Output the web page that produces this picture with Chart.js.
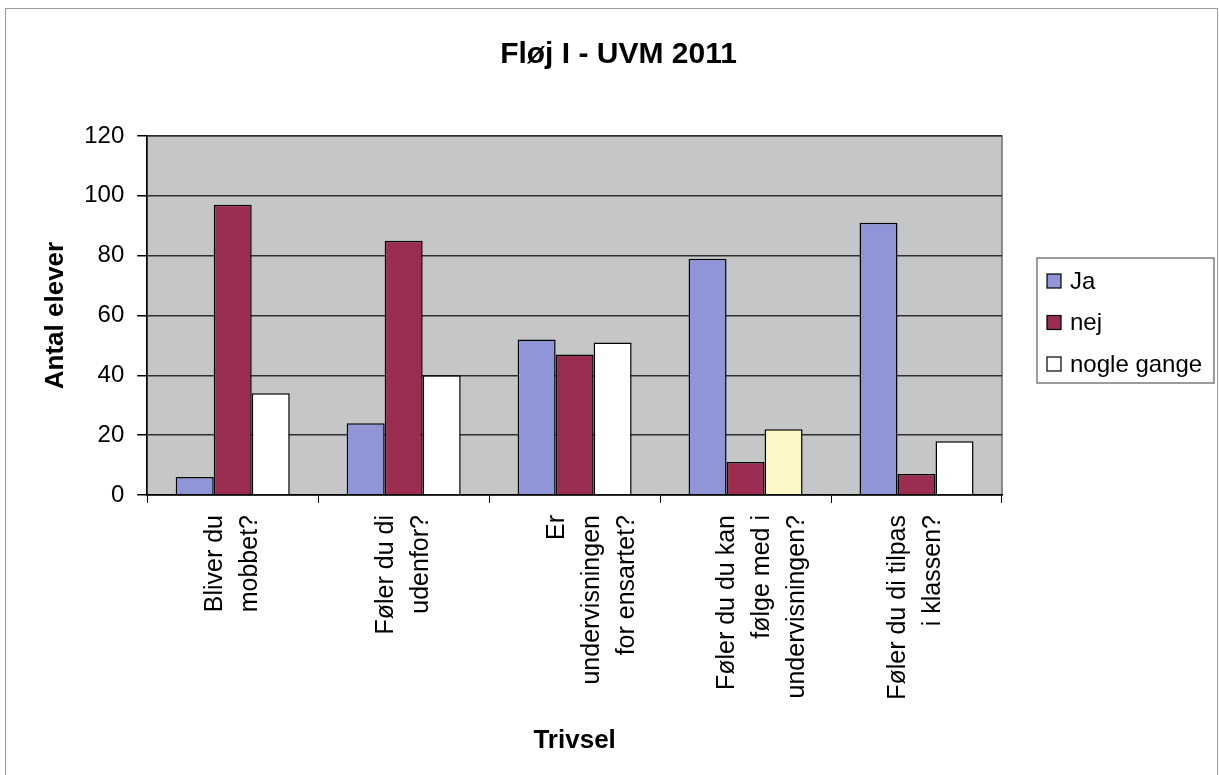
<!DOCTYPE html>
<html>
<head>
<meta charset="utf-8">
<script src="https://cdn.jsdelivr.net/npm/chart.js@4.4.0/dist/chart.umd.min.js"></script>
<style>
  html, body { margin: 0; padding: 0; background: #fff; overflow: hidden; }
  #frame { position: absolute; left: 5px; top: 8px; width: 1211px; height: 800px; border: 1px solid #9a9a9a; }
  #wrap { position: absolute; left: 0; top: 0; width: 1219px; height: 775px; }
</style>
</head>
<body>
<div id="frame"></div>
<div id="wrap"><canvas id="chart"></canvas></div>
<script>
// Data
const categories = [
  ['Bliver du', 'mobbet?'],
  ['Føler du di', 'udenfor?'],
  ['Er', 'undervisningen', 'for ensartet?'],
  ['Føler du du kan', 'følge med i', 'undervisningen?'],
  ['Føler du di tilpas', 'i klassen?']
];
const seriesNames = ['Ja', 'nej', 'nogle gange'];
const jaValues = [6, 24, 52, 79, 91];
const nejValues = [97, 85, 47, 11, 7];
const nogleValues = [34, 40, 51, 22, 18];
const yMin = 0;
const yMax = 120;
const yStep = 20;
const chartTitle = 'Fløj I - UVM 2011';

const FONT = "'Liberation Sans', Arial, sans-serif";

// Grey plot area and its frame
const plotBackground = {
  id: 'plotBackground',
  beforeDraw(chart) {
    const { ctx, chartArea: a } = chart;
    ctx.save();
    ctx.fillStyle = '#c4c6c8';
    ctx.fillRect(a.left, a.top, a.width, a.height);
    ctx.strokeStyle = '#6e6e6e';
    ctx.lineWidth = 1.5;
    ctx.strokeRect(a.left, a.top, a.width, a.height);
    ctx.restore();
  }
};

// Title centred over the whole picture (the built-in one would follow the padding)
const pageTitle = {
  id: 'pageTitle',
  afterDraw(chart) {
    const ctx = chart.ctx;
    ctx.save();
    ctx.fillStyle = '#000';
    ctx.font = "bold 30px " + FONT;
    ctx.textAlign = 'center';
    ctx.textBaseline = 'middle';
    ctx.fillText(chartTitle, chart.width / 2 + 9, 55);
    ctx.restore();
  }
};

// Legend in a framed box to the right of the plot, like Excel's
const sideLegend = {
  id: 'sideLegend',
  afterDraw(chart) {
    const { ctx, chartArea: a } = chart;
    const left = a.right + 35;
    const top = a.top + 122;
    const right = chart.width - 5;
    const rowH = 41.5;
    ctx.save();
    ctx.strokeStyle = '#7c7c7c';
    ctx.lineWidth = 1.5;
    ctx.strokeRect(left, top, right - left, 125);
    ctx.font = "24px " + FONT;
    ctx.textBaseline = 'middle';
    ctx.textAlign = 'left';
    chart.data.datasets.forEach((ds, i) => {
      const cy = top + 23 + i * rowH;
      const fill = Array.isArray(ds.backgroundColor) ? ds.backgroundColor[0] : ds.backgroundColor;
      ctx.fillStyle = fill;
      ctx.fillRect(left + 10, cy - 7, 14, 14);
      ctx.strokeStyle = '#000';
      ctx.lineWidth = 1.2;
      ctx.strokeRect(left + 10, cy - 7, 14, 14);
      ctx.fillStyle = '#000';
      ctx.fillText(ds.label, left + 33, cy + 1);
    });
    ctx.restore();
  }
};

const ctx = document.getElementById('chart').getContext('2d');
new Chart(ctx, {
  type: 'bar',
  data: {
    labels: categories,
    datasets: [
      {
        label: seriesNames[0],
        data: jaValues,
        backgroundColor: '#8f95d6',
        borderColor: '#000',
        borderWidth: 1.5
      },
      {
        label: seriesNames[1],
        data: nejValues,
        backgroundColor: '#9a2d50',
        borderColor: '#000',
        borderWidth: 1.5
      },
      {
        label: seriesNames[2],
        data: nogleValues,
        backgroundColor: ['#ffffff', '#ffffff', '#ffffff', '#fbf8c6', '#ffffff'],
        borderColor: '#000',
        borderWidth: 1.5
      }
    ]
  },
  options: {
    responsive: true,
    maintainAspectRatio: false,
    animation: false,
    categoryPercentage: 0.667,
    barPercentage: 1.0,
    layout: {
      padding: { top: 136, right: 217, bottom: 19, left: 40 }
    },
    plugins: {
      title: { display: false },
      legend: { display: false },
      tooltip: { enabled: false }
    },
    scales: {
      x: {
        grid: {
          display: true,
          drawOnChartArea: false,
          drawTicks: true,
          tickLength: 8,
          tickColor: '#000',
          offset: true
        },
        border: { display: true, color: '#000', width: 1.5 },
        ticks: {
          autoSkip: false,
          minRotation: 90,
          maxRotation: 90,
          padding: 12,
          labelOffset: -18,
          color: '#000',
          font: { family: FONT, size: 25, lineHeight: 1.4 }
        },
        title: {
          display: true,
          text: 'Trivsel',
          color: '#000',
          font: { family: FONT, size: 26, weight: 'bold' },
          padding: { top: 13, bottom: 0 }
        }
      },
      y: {
        min: yMin,
        max: yMax,
        grid: {
          color: '#2e2e2e',
          lineWidth: 1.5,
          drawTicks: true,
          tickLength: 10,
          tickColor: '#000'
        },
        border: { display: true, color: '#000', width: 1.5 },
        ticks: {
          stepSize: yStep,
          padding: 13,
          color: '#000',
          font: { family: FONT, size: 24 }
        },
        title: {
          display: true,
          text: 'Antal elever',
          color: '#000',
          font: { family: FONT, size: 26, weight: 'bold' },
          padding: { top: 0, bottom: 0 }
        }
      }
    }
  },
  plugins: [plotBackground, pageTitle, sideLegend]
});
</script>
</body>
</html>
